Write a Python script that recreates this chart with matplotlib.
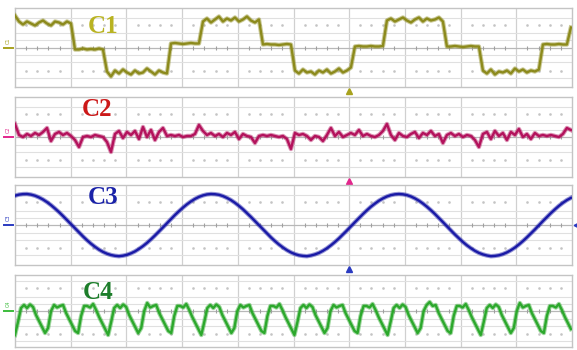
import numpy as np
import matplotlib
matplotlib.use("Agg")
import matplotlib.pyplot as plt
from matplotlib.transforms import blended_transform_factory

# ---------------- data (values in vertical divisions) ----------------
c1_values = [3.2, 2.6, 2.3, 2.6, 2.4, 2.2, 2.5, 2.7, 2.4, 2.2, 2.6, 2.5, 2.3, 2.6, 2.4,
             -0.2, -0.2, -0.1, -0.2, -0.15, -0.2, -0.1, -0.2,
             -2.4, -2.9, -2.3, -2.6, -2.2, -2.5, -2.7, -2.3, -2.6, -2.5, -2.1, -2.4, -2.7, -2.3, -2.5, -2.6,
             0.4, 0.45, 0.4, 0.35, 0.4, 0.45, 0.4, 0.4,
             2.6, 2.9, 2.5, 2.8, 3.1, 2.6, 2.9, 2.7, 3.0, 2.6, 2.8, 3.1, 2.7, 2.5, 2.8,
             0.3, 0.35, 0.3, 0.3, 0.25, 0.3, 0.35, 0.3,
             -2.3, -2.6, -2.2, -2.5, -2.4, -2.7, -2.3, -2.5, -2.2, -2.6, -2.4, -2.1, -2.5, -2.3, -2.0,
             0.1, 0.15, 0.1, 0.1, 0.15, 0.1, 0.1, 0.15,
             2.7, 2.9, 2.6, 2.8, 3.0, 2.7, 2.5, 2.8, 3.0, 2.6, 2.9, 2.7, 2.8, 3.0, 2.6,
             0.1, 0.1, 0.15, 0.1, 0.05, 0.1, 0.15, 0.1, 0.1,
             -2.3, -2.6, -2.2, -2.7, -2.4, -2.5, -2.3, -2.6, -2.1, -2.4, -2.2, -2.5, -2.3, -2.4, -2.2,
             0.3, 0.35, 0.3, 0.3, 0.35, 0.3, 0.3,
             2.0]

c2_values = [1.3, 0.2, 0.0, 0.3, 0.1, 0.4, 0.2, 0.5, 0.9, -0.4,
             0.3, 0.5, 0.2, 0.4, 0.1, -0.3, -1.0, 0.0, 0.1, 0.0,
             0.2, 0.1, 0.0, -0.5, -1.5, 0.3, 0.6, -0.1, 0.5, 0.2,
             0.6, -0.2, 1.0, 0.0, 0.7, -0.3, 0.5, 0.9, 0.1, 0.2,
             0.1, 0.2, 0.0, 0.1, 0.1, 0.3, 1.2, 0.6, 0.2, 0.4,
             0.1, 0.3, 0.0, 0.4, 0.2, 0.5, -0.2, 0.3, 0.1, 0.0,
             -0.6, 0.1, 0.2, 0.1, 0.2, 0.1, 0.0, 0.1, -0.2, -1.2,
             0.4, 0.2, 0.3, 0.1, -0.3, 0.1, 0.0, -0.4, 0.2, 0.9,
             0.1, 0.5, 0.0, 0.2, 0.4, 0.2, 0.7, 0.1, 0.3, 0.1,
             0.0, 0.2, 0.6, 1.3, 0.2, -0.3, 0.4, 0.1, 0.0, 0.3,
             0.5, -0.1, 0.4, 0.2, 0.6, 0.1, 0.3, -0.6, 0.2, 0.4,
             0.1, 0.3, 0.0, 0.2, 0.1, -0.3, -1.0, 0.3, 0.5, -0.2,
             0.6, 0.1, 0.4, -0.3, 0.5, 0.2, 0.8, 0.0, 0.3, -0.2,
             0.4, 0.1, 0.2, 0.1, 0.2, 0.1, 0.0, 0.3, 0.9, 0.7]

c3_values = [2.93, 3.04, 3.09, 3.10, 3.04, 2.93, 2.76, 2.55, 2.29, 1.99,
             1.65, 1.29, 0.90, 0.49, 0.08, -0.34, -0.75, -1.14, -1.52, -1.87,
             -2.18, -2.46, -2.69, -2.87, -3.00, -3.08, -3.12, -3.07, -2.98, -2.83,
             -2.64, -2.39, -2.11, -1.79, -1.43, -1.05, -0.65, -0.24, 0.18, 0.59,
             1.00, 1.38, 1.74, 2.07, 2.36, 2.61, 2.81, 2.96, 3.06, 3.10,
             3.08, 3.02, 2.89, 2.71, 2.49, 2.22, 1.91, 1.57, 1.19, 0.80,
             0.39, -0.02, -0.44, -0.85, -1.24, -1.61, -1.95, -2.25, -2.52, -2.74,
             -2.91, -3.03, -3.09, -3.12, -3.05, -2.94, -2.79, -2.58, -2.33, -2.03,
             -1.70, -1.34, -0.95, -0.55, -0.13, 0.28, 0.69, 1.09, 1.47, 1.83,
             2.14, 2.43, 2.66, 2.85, 2.99, 3.07, 3.10, 3.07, 2.99, 2.85,
             2.66, 2.43, 2.15, 1.83, 1.48, 1.10, 0.70, 0.29, -0.13, -0.54,
             -0.95, -1.33, -1.70, -2.03, -2.32, -2.58, -2.79, -2.94, -3.05, -3.12,
             -3.09, -3.03, -2.91, -2.74, -2.52, -2.26, -1.95, -1.61, -1.24, -0.85,
             -0.45, -0.03, 0.39, 0.79, 1.19, 1.56, 1.91, 2.22, 2.49, 2.71]

c4_values = [-2.4, -1.1, 0.3, 0.6, 0.3, 0.65, 0.4, -0.4, -1.0, -1.6, -2.2,
             -1.7, 0.0, 0.6, 0.35, 0.5, 0.6, -0.2, -0.8, -1.4, -2.0,
             -2.2, -0.5, 0.5, 0.5, 0.35, 0.7, 0.1, -0.6, -1.2, -1.8,
             -2.4, -1.1, 0.3, 0.6, 0.3, 0.65, 0.4, -0.4, -1.0, -1.6, -2.2,
             -1.7, 0.0, 0.8, 0.35, 0.5, 0.6, -0.2, -0.8, -1.4, -2.0,
             -2.2, -0.5, 0.5, 0.5, 0.35, 0.7, 0.1, -0.6, -1.2, -1.8,
             -2.4, -1.1, 0.3, 0.6, 0.3, 0.65, 0.4, -0.4, -1.0, -1.6, -2.2,
             -1.7, 0.0, 0.6, 0.35, 0.5, 0.6, -0.2, -0.8, -1.4, -2.0,
             -2.2, -0.5, 0.5, 0.5, 0.35, 0.7, 0.1, -0.6, -1.2, -1.8,
             -2.4, -1.1, 0.3, 0.6, 0.3, 0.65, 0.4, -0.4, -1.0, -1.6, -2.2,
             -1.7, 0.0, 0.6, 0.35, 0.5, 0.6, -0.2, -0.8, -1.4, -2.0,
             -2.2, -0.5, 0.5, 0.5, 0.35, 0.7, 0.1, -0.6, -1.2, -1.8,
             -2.4, -1.1, 0.3, 0.6, 0.3, 0.65, 0.4, -0.4, -1.0, -1.6, -2.2,
             -1.7, 0.0, 0.6, 0.9, 0.5, 0.6, -0.2, -0.8, -1.4, -2.0,
             -2.2, -0.5, 0.5, 0.5, 0.35, 0.7, 0.1, -0.6, -1.2, -1.8,
             -2.4, -1.1, 0.3, 0.6, 0.3, 0.65, 0.4, -0.4, -1.0, -1.6, -2.2,
             -1.7, 0.0, 0.8, 0.35, 0.5, 0.6, -0.2, -0.8, -1.4, -2.0,
             -2.2, -0.5, 0.5, 0.5, 0.35, 0.7, 0.1, -0.6, -1.2, -1.8]

channel_names = ["C1", "C2", "C3", "C4"]
channel_series = [c1_values, c2_values, c3_values, c4_values]
trigger_division = 6.0

# ---------------- styles ----------------
trace_colors = ["#8c8a1c", "#b3125c", "#1a1aa6", "#2ca82c"]
label_colors = ["#b9b322", "#cc1818", "#1a22a8", "#1c7d2a"]
marker_colors = ["#a8a21e", "#e2268c", "#2a3ac0", "#3cbc3c"]

W, H = 577, 350
fig = plt.figure(figsize=(W / 100, H / 100), dpi=100)
fig.patch.set_facecolor("white")

# panel extents in pixels (top, bottom)
panels_px = [(8, 87), (97, 177), (185, 265), (275, 347)]
left_px, right_px = 15, 572
label_pos = [(0.158, 0.77), (0.148, 0.84), (0.158, 0.84), (0.150, 0.76)]

grid_col = "#d0d0d0"
for k, (top, bot) in enumerate(panels_px):
    hpx = bot - top
    ax = fig.add_axes([left_px / W, 1 - bot / H, (right_px - left_px) / W, hpx / H])
    half = hpx / 20.0
    ax.set_xlim(0, 10)
    ax.set_ylim(-half, half)
    ax.set_xticks([]); ax.set_yticks([])
    for s in ax.spines.values():
        s.set_color("#c4c4c4"); s.set_linewidth(1.0)

    # grid
    for xv in range(1, 10):
        ax.axvline(xv, color=grid_col, lw=0.9, zorder=1)
    for yv in (0.75, 1.45, 3.0):
        for sg in (1, -1):
            if abs(yv) < half:
                ax.axhline(sg * yv, color="#e0e0e0", lw=0.8, zorder=1)
    ax.axhline(0, color="#b8b8b8", lw=0.9, zorder=1)
    dots_x = np.arange(0.2, 10, 0.2)
    dots_x = dots_x[np.abs(dots_x - np.round(dots_x)) > 1e-6]
    for yv in (2.3, -2.3):
        ax.plot(dots_x, np.full(dots_x.size, yv), ls="none", marker="s", ms=0.8,
                color="#c4c4c4", zorder=1)
    ax.plot(dots_x, np.zeros(dots_x.size), ls="none", marker="|", ms=3, mew=0.8,
            color="#a0a0a0", zorder=1)

    vals = np.array(channel_series[k])
    t = np.linspace(0, 9.98, vals.size)
    ax.plot(t, vals, color=trace_colors[k], lw=3.2, alpha=0.45, zorder=3,
            solid_joinstyle="round")
    ax.plot(t, vals, color=trace_colors[k], lw=1.7, zorder=3, solid_joinstyle="round")

    ax.text(label_pos[k][0], label_pos[k][1], channel_names[k], transform=ax.transAxes,
            ha="center", va="center", fontsize=18, fontweight="bold",
            family="Liberation Serif", color=label_colors[k], zorder=4)

    # channel level marker at left
    bt = blended_transform_factory(ax.transAxes, ax.transData)
    ax.plot([-0.019, -0.004], [0, 0], transform=bt, color=marker_colors[k], lw=1.4,
            clip_on=False)
    ax.text(-0.012, 0.7, channel_names[k], transform=bt, fontsize=3.5,
            color=marker_colors[k], ha="center", va="center", rotation=90)

    # trigger marker
    if k < 3:
        bt2 = blended_transform_factory(ax.transData, ax.transAxes)
        ax.plot([trigger_division], [-0.055], transform=bt2, marker="^", ms=4.5,
                color=marker_colors[k], clip_on=False, ls="none")
    if k == 2:
        ax.plot([1.007], [0], transform=bt, marker="<", ms=3.5, color=marker_colors[k],
                clip_on=False, ls="none")

fig.savefig("out.png", dpi=100, facecolor="white")
